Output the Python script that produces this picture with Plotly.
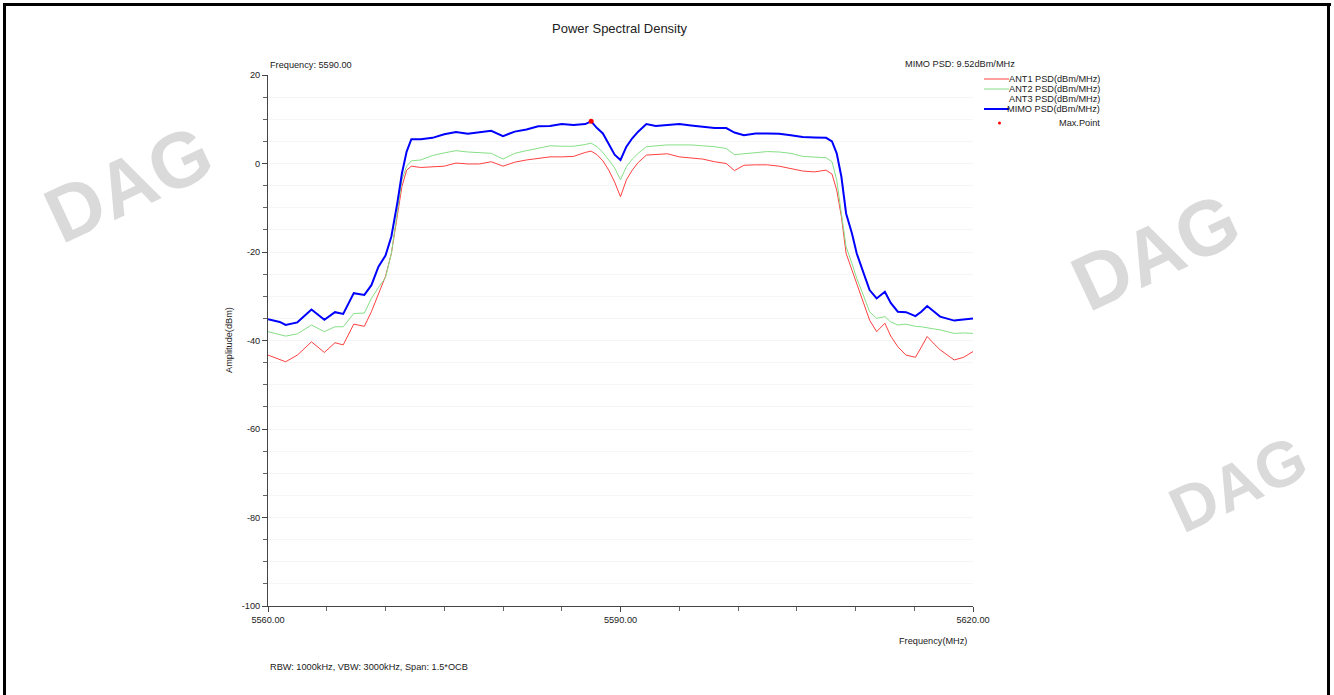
import plotly.graph_objects as go

# ---------------- data ----------------
freq_mhz = [5560, 5561, 5561.5, 5562.5, 5563.7, 5564.8, 5565.7, 5566.4, 5567.3, 5568.2,
            5568.8, 5569.4, 5570.0, 5570.5, 5571.0, 5571.4, 5571.8, 5572.2, 5573.0, 5574.0,
            5575.0, 5576.0, 5577.0, 5578.0, 5579.0, 5580.0, 5581.0, 5582.0, 5583.0, 5584.0,
            5585.0, 5586.0, 5587.0, 5587.5, 5588.0, 5588.5, 5589.0, 5589.5, 5590.0, 5590.5,
            5591.0, 5591.5, 5592.2, 5593.0, 5594.0, 5595.0, 5596.0, 5597.0, 5598.0, 5599.0,
            5599.7, 5600.5, 5601.5, 5602.5, 5603.5, 5604.5, 5605.5, 5606.5, 5607.5, 5608.0,
            5608.4, 5608.8, 5609.2, 5609.7, 5610.1, 5610.6, 5611.2, 5611.8, 5612.5, 5613.0,
            5613.6, 5614.3, 5615.1, 5615.6, 5616.1, 5616.7, 5617.2, 5618.4, 5619.2, 5620.0]

ant1_psd = [-43.3, -44.3, -44.8, -43.3, -40.3, -42.7, -40.5, -41.0, -36.3, -36.8,
            -33.5, -29.5, -25.5, -20.3, -12.0, -5.2, -1.5, -0.6, -0.9, -0.7,
            -0.6, 0.1, -0.1, -0.1, 0.4, -0.6, 0.3, 0.8, 1.2, 1.5,
            1.5, 1.6, 2.5, 2.8, 2.0, 0.6, -1.5, -4.2, -7.5, -3.7,
            -1.5, 0.2, 1.9, 2.1, 2.2, 1.5, 1.2, 1.0, 0.4, 0.0,
            -1.6, -0.4, -0.3, -0.3, -0.6, -1.1, -1.7, -1.9, -1.5, -2.4,
            -6.0, -12.0, -20.3, -24.1, -27.1, -30.8, -35.4, -38.0, -36.1, -39.0,
            -41.4, -43.3, -43.8, -41.5, -39.1, -40.8, -42.1, -44.4, -43.8, -42.5]

ant2_psd = [-38.0, -38.6, -39.0, -38.5, -36.5, -38.0, -36.9, -36.9, -33.9, -33.8,
            -30.5, -28.0, -25.8, -20.3, -10.5, -3.7, -0.6, 0.6, 0.8, 1.8,
            2.4, 2.9, 2.6, 2.4, 2.3, 1.0, 2.3, 2.9, 3.4, 4.0,
            3.9, 3.9, 4.3, 4.6, 3.8, 2.5, 0.8, -1.0, -3.7, -0.7,
            1.0, 2.3, 3.8, 4.0, 4.2, 4.2, 4.2, 4.0, 3.8, 3.4,
            2.0, 2.2, 2.4, 2.7, 2.6, 2.3, 1.6, 1.4, 1.3, 0.4,
            -3.7, -11.3, -18.8, -22.6, -25.9, -29.3, -33.5, -35.0, -34.6, -35.8,
            -36.5, -36.3, -36.8, -36.9, -37.2, -37.4, -37.6, -38.4, -38.3, -38.4]

mimo_psd = [-35.2, -35.8, -36.5, -35.9, -33.0, -35.3, -33.6, -34.0, -29.3, -29.7,
            -27.5, -23.3, -20.8, -16.5, -9.0, -2.2, 2.7, 5.5, 5.5, 5.8,
            6.6, 7.1, 6.7, 7.0, 7.4, 6.2, 7.2, 7.7, 8.4, 8.5,
            8.9, 8.7, 8.9, 9.52, 8.0, 6.8, 4.5, 2.0, 0.8, 3.8,
            5.7, 7.2, 8.9, 8.5, 8.7, 8.9, 8.6, 8.3, 8.0, 8.0,
            7.0, 6.4, 6.8, 6.8, 6.7, 6.4, 6.0, 5.9, 5.8, 5.0,
            2.3, -3.0, -11.3, -15.8, -20.3, -24.1, -28.6, -30.5, -29.0, -31.5,
            -33.5, -33.6, -34.5, -33.5, -32.2, -33.5, -34.6, -35.5, -35.3, -35.0]

max_point_freq = [5587.5]
max_point_psd = [9.52]

x_tick_vals = [5560, 5590, 5620]
x_tick_text = ["5560.00", "5590.00", "5620.00"]
y_tick_vals = [20, 0, -20, -40, -60, -80, -100]
y_tick_text = ["20", "0", "-20", "-40", "-60", "-80", "-100"]

legend_labels = ["ANT1 PSD(dBm/MHz)", "ANT2 PSD(dBm/MHz)", "ANT3 PSD(dBm/MHz)",
                 "MIMO PSD(dBm/MHz)", "Max.Point"]

# ---------------- layout helpers ----------------
W, H = 1334, 695
L, R, T, B = 268, 973, 75, 606  # plot area in pixels


def px(x):
    return (x - L) / (R - L)


def py(y):
    return (B - y) / (B - T)


FONT = "Liberation Sans, Arial, sans-serif"
TXT = "#222222"
SMALL = 9.2

fig = go.Figure()
fig.add_trace(go.Scatter(x=freq_mhz, y=ant1_psd, mode="lines", name=legend_labels[0],
                         line=dict(color="#ff4040", width=1), showlegend=False))
fig.add_trace(go.Scatter(x=freq_mhz, y=ant2_psd, mode="lines", name=legend_labels[1],
                         line=dict(color="#86e086", width=1), showlegend=False))
fig.add_trace(go.Scatter(x=freq_mhz, y=mimo_psd, mode="lines", name=legend_labels[3],
                         line=dict(color="#0000ff", width=2), showlegend=False))
fig.add_trace(go.Scatter(x=max_point_freq, y=max_point_psd, mode="markers", name=legend_labels[4],
                         marker=dict(color="#ff0000", size=5), showlegend=False))

annotations = []
shapes = []

# watermarks
for cx, cy, sz in [(128, 184, 78), (1155, 252, 78), (1238, 484, 64)]:
    annotations.append(dict(x=px(cx), y=py(cy), text="<b>DAG</b>",
                            textangle=-25, xanchor="center", yanchor="middle",
                            font=dict(family=FONT, size=sz, color="#dadada")))

# title and texts
annotations += [
    dict(x=px(620), y=py(29), text="Power Spectral Density", xanchor="center", yanchor="middle",
         font=dict(family=FONT, size=13, color=TXT)),
    dict(x=px(268), y=py(65), text="Frequency: 5590.00", xanchor="left", yanchor="middle",
         font=dict(family=FONT, size=SMALL, color=TXT)),
    dict(x=px(903), y=py(64), text="MIMO PSD: 9.52dBm/MHz", xanchor="left", yanchor="middle",
         font=dict(family=FONT, size=SMALL, color=TXT)),
    dict(x=px(229), y=py(340), text="Amplitude(dBm)", textangle=-90, xanchor="center",
         yanchor="middle", font=dict(family=FONT, size=SMALL, color=TXT)),
    dict(x=px(969), y=py(641), text="Frequency(MHz)", xanchor="right", yanchor="middle",
         font=dict(family=FONT, size=SMALL, color=TXT)),
    dict(x=px(268), y=py(667), text="RBW: 1000kHz, VBW: 3000kHz, Span: 1.5*OCB", xanchor="left",
         yanchor="middle", font=dict(family=FONT, size=SMALL, color=TXT)),
]

# custom legend
leg_y = [79, 89, 99, 109, 123]
leg_colors = ["#ff4040", "#86e086", None, "#0000ff", None]
leg_widths = [1, 1, 1, 2, 1]
for lab, yy, col, lw in zip(legend_labels, leg_y, leg_colors, leg_widths):
    annotations.append(dict(x=px(1102), y=py(yy), text=lab, xanchor="right", yanchor="middle",
                            font=dict(family=FONT, size=SMALL, color=TXT)))
    if col:
        shapes.append(dict(type="line", xref="paper", yref="paper", x0=px(984), x1=px(1009),
                           y0=py(yy), y1=py(yy), line=dict(color=col, width=lw)))
shapes.append(dict(type="circle", xref="paper", yref="paper", x0=px(998), x1=px(1001),
                   y0=py(124.5), y1=py(121.5), fillcolor="#ff0000", line=dict(width=0)))

# outer frame
shapes.append(dict(type="rect", xref="paper", yref="paper", x0=px(3), x1=px(1331),
                   y0=py(6), y1=py(3), fillcolor="black", line=dict(width=0)))
shapes.append(dict(type="rect", xref="paper", yref="paper", x0=px(3), x1=px(6),
                   y0=py(700), y1=py(3), fillcolor="black", line=dict(width=0)))
shapes.append(dict(type="rect", xref="paper", yref="paper", x0=px(1327), x1=px(1330),
                   y0=py(700), y1=py(3), fillcolor="black", line=dict(width=0)))

for a in annotations:
    a.setdefault("xref", "paper")
    a.setdefault("yref", "paper")
    a.setdefault("showarrow", False)

fig.update_layout(
    width=W, height=H, autosize=False,
    margin=dict(l=L, r=W - R, t=T, b=H - B),
    paper_bgcolor="white", plot_bgcolor="white",
    font=dict(family=FONT, size=10, color=TXT),
    showlegend=False,
    annotations=annotations,
    shapes=shapes,
    xaxis=dict(range=[5560, 5620], tickmode="array", tickvals=x_tick_vals, ticktext=x_tick_text,
               showline=True, linecolor="#444444", linewidth=1,
               ticks="outside", ticklen=5, tickcolor="#444444",
               minor=dict(dtick=5, tick0=5560, ticks="outside", ticklen=4, tickcolor="#666666"),
               showgrid=False, zeroline=False,
               tickfont=dict(family=FONT, size=SMALL, color=TXT)),
    yaxis=dict(range=[-100, 20], tickmode="array", tickvals=y_tick_vals, ticktext=y_tick_text,
               showline=True, linecolor="#444444", linewidth=1,
               ticks="outside", ticklen=5, tickcolor="#444444",
               minor=dict(dtick=5, tick0=0, ticks="outside", ticklen=4, tickcolor="#666666",
                          showgrid=True, gridcolor="#f6f6f6"),
               showgrid=True, gridcolor="#f5f5f5", zeroline=False,
               tickfont=dict(family=FONT, size=SMALL, color=TXT)),
)

fig.write_html("out.html", config={"displayModeBar": False},
               post_script="document.body.style.margin='0';document.body.style.overflow='hidden';")
